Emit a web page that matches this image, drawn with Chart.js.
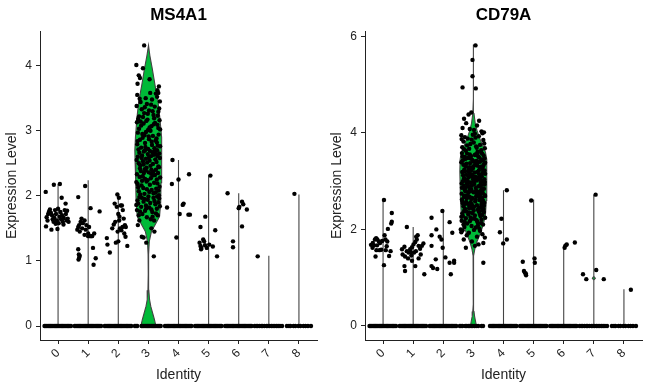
<!DOCTYPE html>
<html>
<head>
<meta charset="utf-8">
<script src="https://cdn.jsdelivr.net/npm/chart.js@4"></script>
<style>
  body { margin: 0; background: #fff; }
  .wrap { display: flex; width: 650px; height: 388px; }
  canvas { display: block; }
</style>
</head>
<body>
<div class="wrap">
  <canvas id="ms4a1" width="325" height="388"></canvas>
  <canvas id="cd79a" width="325" height="388"></canvas>
</div>
<script>
const identities = ["0", "1", "2", "3", "4", "5", "6", "7", "8"];
const ms4a1Ticks = [0, 1, 2, 3, 4];
const cd79aTicks = [0, 2, 4, 6];

// violin outlines per identity: [expression, half width]
const ms4a1Violins = [
    [[0, 0], [2.18, 0]],
    [[0, 0], [2.24, 0]],
    [[0, 0], [2.02, 0]],
    [[0, 0.25], [0.1, 0.2], [0.2, 0.14], [0.3, 0.08], [0.4, 0.04], [0.55, 0.015], [0.8, 0.005], [1.1, 0.01],
     [1.3, 0.03], [1.45, 0.1], [1.55, 0.22], [1.68, 0.37], [1.9, 0.41], [2.2, 0.42], [2.5, 0.44], [2.7, 0.45],
     [2.9, 0.43], [3.2, 0.38], [3.45, 0.32], [3.7, 0.22], [3.95, 0.13], [4.15, 0.05], [4.31, 0.004]],
    [[0, 0], [2.55, 0]],
    [[0, 0], [2.31, 0]],
    [[0, 0], [2.04, 0]],
    [[0, 0], [1.08, 0]],
    [[0, 0], [2.02, 0]]
];
const cd79aViolins = [
    [[0, 0], [2.62, 0]],
    [[0, 0], [2.05, 0]],
    [[0, 0], [2.40, 0]],
    [[0, 0.1], [0.1, 0.07], [0.2, 0.04], [0.3, 0.02], [0.45, 0.006], [0.8, 0.002], [1.2, 0.003], [1.45, 0.01],
     [1.6, 0.05], [1.75, 0.12], [1.9, 0.22], [2.1, 0.33], [2.3, 0.4], [2.6, 0.43], [2.9, 0.44], [3.2, 0.45],
     [3.45, 0.44], [3.6, 0.4], [3.75, 0.3], [3.9, 0.2], [4.05, 0.12], [4.2, 0.06], [4.4, 0.02], [4.7, 0.006],
     [5.2, 0.003], [5.83, 0.001]],
    [[0, 0], [2.81, 0]],
    [[0, 0], [2.62, 0]],
    [[0, 0], [1.69, 0]],
    [[0, 0], [0.95, 0], [0.99, 0.05], [1.03, 0], [2.72, 0]],
    [[0, 0], [0.76, 0]]
];

// jittered cells with expression > 0: [jitter, expression]
const ms4a1Points = [
    [[-0.41,2.06],[-0.14,2.17],[0.06,2.18],[0.12,1.97],[0.25,1.88],[-0.40,1.53],[-0.38,1.67],[-0.33,1.72],[-0.30,1.76],[-0.27,1.79],
     [-0.24,1.74],[-0.20,1.70],[-0.18,1.64],[-0.15,1.60],[-0.12,1.66],[-0.10,1.78],[-0.07,1.72],[-0.04,1.62],[-0.02,1.49],[0.02,1.58],
     [0.05,1.68],[0.08,1.75],[0.10,1.64],[0.13,1.70],[0.16,1.60],[0.19,1.66],[0.22,1.78],[0.26,1.72],[0.29,1.62],[0.32,1.65],
     [0.35,1.60],[-0.22,1.48],[-0.35,1.62],[0.00,1.80],[0.18,1.56],[-0.08,1.57],[0.30,1.77]],
    [[-0.33,1.98],[-0.10,2.15],[0.08,1.81],[0.38,1.76],[-0.36,1.48],[-0.33,1.52],[-0.30,1.55],[-0.28,1.45],[-0.25,1.60],[-0.22,1.65],
     [-0.18,1.58],[-0.12,1.62],[-0.06,1.55],[0.00,1.38],[0.03,1.52],[0.06,1.38],[0.10,1.38],[0.13,1.38],[0.20,1.42],[0.16,1.20],
     [-0.33,1.18],[-0.31,1.10],[-0.30,1.05],[-0.32,1.02],[-0.28,1.08],[-0.12,1.40],[0.25,1.04],[0.18,0.94],[-0.20,1.50],[0.00,1.42],[-0.08,1.48]],
    [[-0.03,2.02],[0.02,1.97],[-0.38,1.35],[-0.36,1.25],[-0.28,1.13],[-0.20,1.50],[-0.15,1.56],[-0.10,1.60],[-0.05,1.83],[0.00,1.72],
     [0.04,1.68],[0.08,1.85],[0.12,1.85],[0.15,1.78],[0.18,1.65],[0.22,1.55],[-0.02,1.45],[0.06,1.50],[0.10,1.47],[0.14,1.52],
     [0.20,1.42],[0.24,1.37],[0.30,1.23],[-0.08,1.28],[0.00,1.30],[0.25,1.52],[-0.12,1.88],[0.03,1.62]],
    [[-0.14,4.31],[-0.40,4.01],[-0.18,3.96],[-0.32,3.85],[-0.28,3.81],[0.04,3.79],[0.35,3.68],[0.33,3.58],[-0.36,3.72],[0.30,3.62],
     [0.18,1.07],[-0.07,1.28],[-0.22,1.37],[-0.16,1.36],[0.20,1.45],[-0.35,1.55],[0.10,1.50],[-0.30,1.62],
     [-0.37,3.55],[0.12,3.48],[-0.05,3.41],[0.29,3.52],[-0.22,3.33],[0.38,3.45],[-0.14,3.27],[0.06,3.58],[-0.31,3.22],[0.21,3.37],
     [0.33,3.29],[-0.09,3.50],[0.17,3.24],[-0.26,3.44],[0.02,3.31],[-0.39,3.38],[0.25,3.57],[-0.18,3.21],[0.09,3.40],[0.36,3.34],
     [-0.02,3.26],[-0.29,3.49],[0.14,3.30],[-0.12,3.36],[0.31,3.23],
     [-0.34,3.18],[0.04,3.05],[0.22,3.12],[-0.20,2.95],[0.39,3.02],[-0.07,3.15],[0.27,2.88],[-0.24,3.08],[0.11,2.83],[-0.35,2.97],
     [0.19,3.19],[0.01,2.91],[-0.16,3.11],[0.34,2.94],[-0.28,2.86],[0.07,3.00],[-0.11,2.81],[0.30,3.09],[-0.38,3.13],[0.15,2.92],
     [-0.03,3.17],[0.24,2.85],[-0.31,3.03],[0.37,3.16],[-0.19,2.89],[0.10,3.07],[-0.08,2.98],[0.28,2.82],[-0.26,3.14],[0.02,2.87],
     [0.33,3.04],[-0.13,2.93],[0.18,3.10],[-0.36,2.84],[-0.01,3.01],
     [0.12,2.78],[-0.33,2.71],[0.26,2.64],[-0.10,2.75],[0.38,2.58],[-0.21,2.62],[0.05,2.69],[-0.39,2.55],[0.20,2.73],[-0.04,2.51],
     [0.31,2.77],[-0.27,2.47],[0.09,2.61],[-0.15,2.68],[0.35,2.44],[-0.06,2.43],[0.23,2.56],[-0.30,2.66],[0.15,2.49],[-0.37,2.79],
     [0.02,2.59],[-0.18,2.53],[0.29,2.70],[-0.12,2.41],[0.36,2.65],[-0.24,2.74],[0.07,2.46],[-0.01,2.72],[0.18,2.63],[-0.35,2.60],
     [0.27,2.52],[-0.08,2.57],[0.13,2.67],[-0.28,2.42],[0.39,2.76],[-0.16,2.48],[0.04,2.54],[0.33,2.45],[-0.22,2.58],[0.10,2.40],
     [-0.32,2.50],[0.21,2.68],[-0.02,2.64],[0.30,2.61],[-0.11,2.70],
     [-0.25,2.38],[0.14,2.31],[-0.06,2.22],[0.32,2.35],[-0.36,2.18],[0.08,2.27],[-0.17,2.12],[0.24,2.05],[-0.29,2.29],[0.37,2.14],
     [0.01,2.36],[-0.13,2.03],[0.19,2.20],[-0.38,2.33],[0.28,2.25],[-0.09,2.39],[0.11,2.09],[-0.23,2.16],[0.35,2.01],[-0.03,2.24],
     [-0.32,2.07],[0.16,2.37],[-0.19,2.30],[0.26,2.11],[0.05,2.17],[-0.40,2.21],[0.22,2.32],[-0.11,2.26],[0.39,2.28],[-0.27,2.02],
     [0.09,2.34],[-0.05,2.10],[0.30,2.19],[-0.34,2.13],[0.17,2.04],[-0.15,2.35],[0.03,2.06],[0.25,2.40],[-0.21,2.23],[0.34,2.08],
     [-0.30,1.98],[0.20,1.92],[-0.08,1.85],[0.36,1.96],[-0.38,1.78],[0.06,1.89],[-0.20,1.72],[0.28,1.80],[-0.13,1.95],[0.13,1.75],
     [-0.34,1.88],[0.31,1.70],[0.00,1.99],[-0.24,1.83],[0.23,1.87],[-0.05,1.67],[0.38,1.84],[-0.36,1.93],[0.10,1.79],[-0.16,1.91],
     [0.17,1.97],[-0.28,1.76],[0.03,1.82],[0.33,1.90],[-0.11,1.77],[-0.40,1.86],[0.25,1.73],[-0.02,1.94],[0.14,1.68],[-0.22,1.97],
     [0.08,1.64],[-0.32,1.70],[0.29,1.99],[-0.07,1.81],[0.19,1.62]],
    [[-0.20,2.55],[-0.22,2.18],[0.00,2.25],[0.35,2.33],[-0.38,1.82],[0.14,1.86],[0.17,1.88],[0.04,1.72],[0.33,1.71],[0.38,1.71],[-0.07,1.36]],
    [[0.06,2.31],[-0.11,1.68],[-0.27,1.52],[0.22,1.47],[-0.30,1.28],[-0.27,1.23],[-0.25,1.18],[-0.24,1.20],[-0.18,1.33],[-0.15,1.30],
     [-0.06,1.20],[0.02,1.25],[0.14,1.22],[0.28,1.07],[-0.12,1.24]],
    [[-0.37,2.04],[0.11,1.91],[0.15,1.87],[0.00,1.81],[0.02,1.83],[0.27,1.79],[0.11,1.53],[-0.19,1.30],[-0.19,1.21]],
    [[-0.37,1.07]],
    [[-0.15,2.03]]
];

const cd79aPoints = [
    [[0.03,2.61],[0.29,2.34],[0.29,2.16],[0.27,2.12],[0.16,2.01],[0.05,1.88],[-0.27,1.79],[-0.23,1.82],[-0.19,1.79],[-0.14,1.75],
     [-0.40,1.68],[-0.34,1.72],[-0.30,1.67],[-0.20,1.67],[-0.10,1.72],[-0.03,1.76],[0.08,1.79],[0.14,1.75],[0.09,1.57],[0.25,1.55],
     [0.20,1.45],[-0.25,1.44],[0.03,1.26],[-0.12,1.57],[-0.06,1.58],[-0.22,1.57],[-0.35,1.62],[0.12,1.65]],
    [[-0.21,2.05],[-0.37,1.59],[-0.29,1.64],[-0.21,1.55],[-0.10,1.59],[-0.04,1.63],[0.01,1.69],[0.07,1.74],[0.12,1.79],[0.18,1.66],
     [0.23,1.60],[0.29,1.66],[0.34,1.71],[-0.35,1.48],[-0.27,1.44],[-0.17,1.40],[-0.06,1.46],[0.03,1.52],[0.09,1.55],[0.18,1.40],
     [-0.04,1.35],[-0.29,1.24],[0.07,1.24],[-0.27,1.14],[0.37,1.07],[0.10,1.85],[0.15,1.88],[-0.15,1.52],[0.25,1.48],[-0.08,1.53]],
    [[-0.39,2.24],[-0.03,2.38],[-0.23,2.00],[-0.39,1.88],[-0.12,1.85],[-0.06,1.79],[-0.39,1.66],[-0.02,1.62],[0.21,2.15],[0.30,1.93],
     [-0.25,1.38],[-0.39,1.24],[-0.34,1.20],[-0.20,1.18],[0.07,1.42],[0.21,1.31],[0.36,1.35],[0.36,1.31],[0.25,1.07]],
    [[0.07,5.81],[-0.03,5.51],[-0.03,5.17],[0.08,4.92],[-0.36,4.94],
     [-0.16,4.38],[-0.31,4.29],[0.02,4.06],[-0.40,3.95],[0.27,4.03],[-0.24,4.20],[0.12,4.15],[-0.07,4.42],[0.35,4.01],[-0.36,4.10],
     [0.19,4.25],[-0.12,4.08],
     [0.05,3.98],[-0.28,3.91],[0.33,3.85],[-0.10,3.77],[0.18,3.93],[-0.37,3.70],[0.26,3.64],[-0.19,3.88],[0.09,3.72],[-0.02,3.96],
     [0.38,3.68],[-0.33,3.82],[0.14,3.61],[-0.06,3.86],[0.22,3.75],[-0.25,3.63],[0.30,3.99],[-0.14,3.67],[0.01,3.80],[-0.39,3.87],
     [0.11,3.69],[0.36,3.78],[-0.21,3.74],[0.07,3.90],[-0.31,3.66],
     [-0.38,3.58],[0.16,3.51],[-0.04,3.44],[0.29,3.57],[-0.23,3.36],[0.37,3.47],[-0.13,3.29],[0.07,3.55],[-0.30,3.24],[0.22,3.40],
     [0.32,3.31],[-0.08,3.52],[0.18,3.22],[-0.27,3.46],[0.03,3.33],[-0.40,3.39],[0.26,3.59],[-0.17,3.21],[0.10,3.42],[0.35,3.35],
     [-0.01,3.27],[-0.29,3.50],[0.13,3.32],[-0.11,3.37],[0.30,3.25],[-0.35,3.43],[0.05,3.54],[0.21,3.28],[-0.19,3.48],[0.39,3.38],
     [-0.06,3.23],[0.27,3.45],[-0.25,3.30],[0.12,3.56],[-0.33,3.34],[0.19,3.49],[0.00,3.41],[-0.15,3.26],[0.34,3.53],[-0.28,3.20],
     [0.08,3.36],[-0.21,3.57],[0.24,3.30],[-0.09,3.47],[0.37,3.22],[-0.36,3.51],[0.15,3.39],[-0.03,3.29],[0.31,3.43],[-0.12,3.55],
     [0.04,3.18],[-0.34,3.12],[0.23,3.05],[-0.12,3.16],[0.38,2.98],[-0.20,3.02],[0.06,3.09],[-0.39,2.95],[0.19,3.14],[-0.05,2.91],
     [0.30,3.17],[-0.27,2.87],[0.10,3.01],[-0.16,3.08],[0.35,2.84],[-0.07,2.83],[0.24,2.96],[-0.31,3.06],[0.16,2.89],[-0.37,3.19],
     [0.01,2.99],[-0.19,2.93],[0.28,3.10],[-0.13,2.81],[0.36,3.04],[-0.23,3.13],[0.08,2.86],[-0.02,3.11],[0.17,3.03],[-0.35,3.00],
     [0.26,2.92],[-0.09,2.97],[0.12,3.07],[-0.29,2.82],[0.39,3.15],[-0.15,2.88],[0.03,2.94],[0.33,2.85],[-0.24,2.99],[0.09,2.80],
     [-0.32,2.90],[0.21,3.08],[-0.01,3.04],[0.31,3.00],[-0.10,3.10],[-0.38,2.86],[0.14,3.19],[-0.22,2.95],[0.27,2.83],[-0.06,3.14],
     [0.20,2.90],[-0.26,3.03],[0.37,2.93],[-0.17,2.97],[0.02,3.06],
     [-0.26,2.79],[0.13,2.72],[-0.07,2.63],[0.31,2.76],[-0.37,2.59],[0.09,2.68],[-0.18,2.53],[0.25,2.46],[-0.30,2.70],[0.36,2.55],
     [0.00,2.77],[-0.14,2.44],[0.20,2.61],[-0.39,2.74],[0.29,2.66],[-0.10,2.80],[0.12,2.50],[-0.24,2.57],[0.34,2.42],[-0.04,2.65],
     [-0.33,2.48],[0.17,2.78],[-0.20,2.71],[0.27,2.52],[0.06,2.58],[-0.38,2.62],[0.23,2.73],[-0.12,2.67],[0.39,2.69],[-0.28,2.43],
     [0.10,2.75],[-0.05,2.51],[0.32,2.60],[-0.35,2.54],[0.18,2.45],[-0.16,2.76],[0.02,2.47],[0.26,2.80],[-0.22,2.64],[0.35,2.49],
     [-0.09,2.56],[0.15,2.41],[-0.31,2.67],[0.07,2.62],[0.28,2.57],[-0.02,2.44],[-0.27,2.53],[0.21,2.66],[-0.13,2.48],[0.38,2.71],
     [-0.31,2.38],[0.21,2.32],[-0.09,2.25],[0.35,2.36],[-0.39,2.18],[0.05,2.29],[-0.21,2.12],[0.27,2.20],[-0.14,2.35],[0.14,2.15],
     [-0.35,2.28],[0.32,2.10],[0.01,2.39],[-0.25,2.23],[0.24,2.27],[-0.06,2.07],[0.39,2.24],[-0.37,2.33],[0.11,2.19],[-0.17,2.31],
     [0.18,2.37],[-0.29,2.16],[0.04,2.22],[0.30,2.30],[-0.12,2.17],[-0.40,2.26],[0.26,2.13],[-0.03,2.34],[0.15,2.08],[-0.23,2.37],
     [0.08,2.04],[-0.33,2.10],[0.29,2.39],[-0.08,2.21],[0.20,2.02],
     [-0.32,1.79],[0.33,1.72],[-0.25,1.62],[0.05,1.66],[0.30,1.90],[-0.36,1.98],[0.12,1.85],[-0.15,1.93],[0.22,1.97],[-0.05,1.75],
     [0.38,1.83],[-0.22,1.88],[0.17,1.69],[-0.40,1.94],[0.02,1.99],[0.33,1.31],[-0.30,2.05],[-0.42,2.00]],
    [[0.11,2.81],[-0.07,2.22],[-0.12,1.94],[-0.01,1.71],[0.11,1.79]],
    [[-0.08,2.60],[-0.36,1.33],[-0.32,1.14],[-0.29,1.10],[-0.26,1.09],[-0.25,1.05],[0.03,1.40],[0.04,1.31]],
    [[0.03,1.62],[0.07,1.67],[0.10,1.69],[0.37,1.73]],
    [[0.06,2.72],[-0.36,1.07],[-0.25,0.97],[0.08,1.16],[0.33,0.97]],
    [[0.23,0.75]]
];

// jitter of the many cells sitting at exactly 0
const zeroDense = [-0.45,-0.41,-0.37,-0.33,-0.29,-0.25,-0.21,-0.17,-0.13,-0.09,-0.05,-0.01,0.03,0.07,0.11,0.15,0.19,0.23,0.27,0.31,0.35,0.39,0.43];
const zeroMs4a1Id3 = [-0.45,-0.41,-0.37,-0.23,-0.19,-0.15,-0.11,-0.07,-0.03,0.01,0.05,0.09,0.13,0.17,0.21,0.25,0.29,0.33,0.37,0.41];
const zeroCd79aId3 = [-0.45,-0.41,-0.36,-0.27,-0.22,-0.17,-0.12,-0.07,-0.02,0.04,0.09,0.16,0.27,0.32];
const zeroId7 = [-0.47,-0.42,-0.37,-0.31,-0.25,-0.21,-0.15,-0.08,-0.03,0.03,0.09,0.14,0.20,0.26,0.31,0.37,0.44];
const zeroId8 = [-0.40,-0.33,-0.28,-0.18,-0.12,-0.02,0.05,0.15,0.22,0.30,0.40];
const ms4a1Zeros = [zeroDense, zeroDense, zeroDense, zeroMs4a1Id3, zeroDense, zeroDense, zeroDense, zeroId7, zeroId8];
const cd79aZeros = [zeroDense, zeroDense, zeroDense, zeroCd79aId3, zeroDense, zeroDense, zeroDense, zeroId7, zeroId8];

const violinFill = "#00BA38";

Chart.defaults.font.family = "'Liberation Sans', Arial, Helvetica, sans-serif";
Chart.defaults.color = "#222";

function violinDatasets(profiles) {
    return profiles.map((prof, i) => {
        const right = prof.map(([y, w]) => ({ x: i + w, y: y }));
        const left = prof.slice().reverse().map(([y, w]) => ({ x: i - w, y: y }));
        return {
            type: "scatter",
            data: right.concat(left),
            showLine: true,
            fill: "shape",
            backgroundColor: violinFill,
            borderColor: "#444",
            borderWidth: 1.1,
            pointRadius: 0,
            tension: 0,
            order: 1
        };
    });
}

function pointDataset(points, zeros) {
    const data = [];
    points.forEach((list, i) => {
        list.forEach(([dx, y]) => data.push({ x: i + dx, y: y }));
    });
    zeros.forEach((list, i) => {
        list.forEach(dx => data.push({ x: i + dx, y: 0 }));
    });
    return {
        type: "scatter",
        data: data,
        pointRadius: 2.2,
        pointBorderWidth: 0,
        backgroundColor: "#000",
        order: 0
    };
}

function makeChart(id, title, profiles, points, zeros, yTicks, yMin, yMax) {
    const ctx = document.getElementById(id).getContext("2d");
    return new Chart(ctx, {
        type: "scatter",
        data: {
            datasets: [pointDataset(points, zeros)].concat(violinDatasets(profiles))
        },
        options: {
            responsive: false,
            animation: false,
            layout: { padding: { left: 0, right: 8, top: 0, bottom: 0 } },
            plugins: {
                legend: { display: false },
                tooltip: { enabled: false },
                title: {
                    display: true,
                    text: title,
                    fullSize: false,
                    color: "#000",
                    font: { size: 17, weight: "bold" },
                    padding: { top: 5, bottom: 6 }
                }
            },
            scales: {
                x: {
                    type: "linear",
                    min: -0.6,
                    max: 8.6,
                    afterBuildTicks: scale => {
                        scale.ticks = identities.map((_, i) => ({ value: i }));
                    },
                    afterFit: scale => { scale.height = 48; },
                    ticks: {
                        minRotation: 45,
                        maxRotation: 45,
                        padding: 2,
                        color: "#222",
                        font: { size: 12 },
                        callback: v => identities[v]
                    },
                    grid: { drawOnChartArea: false, tickLength: 4, color: "#222" },
                    border: { color: "#222", width: 1 },
                    title: {
                        display: true,
                        text: "Identity",
                        color: "#222",
                        font: { size: 14 },
                        padding: { top: 0, bottom: 4 }
                    }
                },
                y: {
                    min: yMin,
                    max: yMax,
                    afterBuildTicks: scale => {
                        scale.ticks = yTicks.map(v => ({ value: v }));
                    },
                    afterFit: scale => { scale.width = 40; },
                    ticks: { padding: 4, color: "#222", font: { size: 12 } },
                    grid: { drawOnChartArea: false, tickLength: 4, color: "#222" },
                    border: { color: "#222", width: 1 },
                    title: {
                        display: true,
                        text: "Expression Level",
                        color: "#222",
                        font: { size: 14 },
                        padding: { top: 4, bottom: 0 }
                    }
                }
            }
        }
    });
}

makeChart("ms4a1", "MS4A1", ms4a1Violins, ms4a1Points, ms4a1Zeros, ms4a1Ticks, -0.215, 4.525);
makeChart("cd79a", "CD79A", cd79aViolins, cd79aPoints, cd79aZeros, cd79aTicks, -0.29, 6.1);
</script>
</body>
</html>
